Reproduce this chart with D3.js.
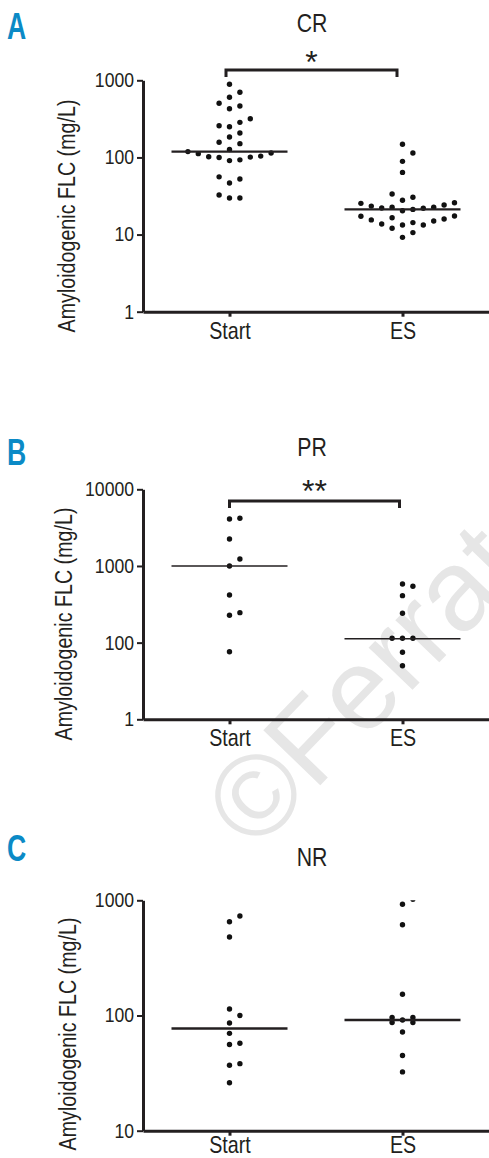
<!DOCTYPE html>
<html>
<head>
<meta charset="utf-8">
<script src="https://cdn.jsdelivr.net/npm/d3@7"></script>
<style>
  body { margin: 0; background: #fff; }
  svg { display: block; }
</style>
</head>
<body>
<div id="chart"></div>
<script>
const groups = ['Start', 'ES'];

// A - CR
const crStart = [887, 699, 602, 504, 464, 428, 318, 285, 258, 250, 207, 184, 157, 151, 127,
                 119, 114, 112, 104, 102, 101, 100, 93, 91, 56, 52.5, 46.6, 32.6, 29.8, 29.8];
const crES = [148, 114, 89, 64, 33.6, 30.4, 27.8, 25.9, 25.4, 24.2, 23.4, 22.6, 22.6, 22.1, 21.9,
              21.2, 20.4, 17.4, 17.3, 16.5, 15.9, 15.5, 15.0, 14.3, 13.7, 13.3, 13.3, 12.1, 10.6, 9.2];
const crMedian = [119, 21.2];
const crTicks = [1, 10, 100, 1000];
const crTickLabels = ['1', '10', '100', '1000'];

// B - PR
const prStart = [4190, 4100, 2250, 1234, 1000, 419, 246, 228, 76];
const prES = [582, 543, 410, 242, 114, 114, 114, 75, 50];
const prMedian = [1000, 112];
const prTicks = [10, 100, 1000, 10000];
const prTickLabels = ['1', '100', '1000', '10000'];

// C - NR
const nrStart = [731, 652, 480, 114, 100, 86, 70, 57.4, 56, 38.2, 37, 26.1];
const nrES = [1020, 923, 614, 153, 96, 96, 91.4, 87, 87, 72, 45, 32.4];
const nrMedian = [77, 91.4];
const nrTicks = [10, 100, 1000];
const nrTickLabels = ['10', '100', '1000'];

const W = 489, H = 1158;
const ink = '#231f20';
// no condensed face installed, so squeeze Liberation Sans horizontally
const sans = '"Liberation Sans", Arial, sans-serif';
const squeeze = 0.82;

const svg = d3.select('#chart')
    .append('svg')
    .attr('width', W)
    .attr('height', H);

// watermark, sits behind the plots
svg.append('text')
    .attr('transform', 'translate(255,853) rotate(-46)')
    .attr('font-family', sans)
    .attr('font-size', 115)
    .attr('fill', '#e6e6e6')
    .text('©Ferrata');

// simple beeswarm: go up from the lowest value, take the nearest free slot
function swarm(values, y, cx, maxSlot) {
    const step = 10.4, minDist = 10;
    const placed = [];
    values.slice().sort((a, b) => a - b).forEach(v => {
        const py = y(v);
        let best = cx, bestD = -1;
        for (let k = 0; k <= 2 * maxSlot; k++) {
            const s = k === 0 ? 0 : (k % 2 ? (k + 1) / 2 : -k / 2);
            const px = cx + s * step;
            const d = placed.length ? d3.min(placed, p => Math.hypot(p.x - px, p.y - py)) : Infinity;
            if (d >= minDist) { best = px; break; }
            if (d > bestD) { bestD = d; best = px; }
        }
        placed.push({ x: best, y: py });
    });
    return placed;
}

const panels = [
    { letter: 'A', title: 'CR', top: 80.3, bottom: 311.7, domain: [1, 1000],
      ticks: crTicks, tickLabels: crTickLabels, series: [crStart, crES], median: crMedian,
      maxSlot: 5, medianWidth: 2.2, titleY: 32, letterY: 39, labelX: 75, labelY: 216, xPad: 5,
      sig: { text: '*', y: 70, textY: 73, l: -3.5, r: -5.5 } },
    { letter: 'B', title: 'PR', top: 489.3, bottom: 719.3, domain: [10, 10000],
      ticks: prTicks, tickLabels: prTickLabels, series: [prStart, prES], median: prMedian,
      maxSlot: 2, medianWidth: 1.5, titleY: 456, letterY: 465, labelX: 72, labelY: 624, xPad: 5,
      sig: { text: '**', y: 501, textY: 502, l: 0, r: -3 } },
    { letter: 'C', title: 'NR', top: 900.3, bottom: 1130.7, domain: [10, 1000],
      ticks: nrTicks, tickLabels: nrTickLabels, series: [nrStart, nrES], median: nrMedian,
      maxSlot: 1, medianWidth: 2.5, titleY: 866, letterY: 861, labelX: 76, labelY: 1034, xPad: 0.5,
      sig: null }
];

const x = d3.scalePoint()
    .domain(groups)
    .range([143, W])
    .padding(0.5);

panels.forEach((p, pi) => {
    const g = svg.append('g');
    const y = d3.scaleLog().domain(p.domain).range([p.bottom, p.top]);

    // panel letter
    g.append('text')
        .attr('transform', `translate(7,${p.letterY}) scale(0.72,1)`)
        .attr('font-family', sans)
        .attr('font-weight', 'bold')
        .attr('font-size', 37)
        .attr('fill', '#0b8ac6')
        .text(p.letter);

    // title
    g.append('text')
        .attr('transform', `translate(${(x('Start') + x('ES')) / 2 - 4},${p.titleY}) scale(0.85,1)`)
        .attr('text-anchor', 'middle')
        .attr('font-family', sans)
        .attr('font-size', 25)
        .attr('fill', ink)
        .text(p.title);

    // y label
    g.append('text')
        .attr('transform', `translate(${p.labelX},${p.labelY}) rotate(-90) scale(${squeeze},1)`)
        .attr('text-anchor', 'middle')
        .attr('font-family', sans)
        .attr('font-size', 24)
        .attr('fill', ink)
        .text('Amyloidogenic FLC (mg/L)');

    // axes
    const yAxis = g.append('g')
        .attr('transform', 'translate(143,0)')
        .call(d3.axisLeft(y)
            .tickValues(p.ticks)
            .tickFormat((d, i) => p.tickLabels[i])
            .tickSize(6)
            .tickPadding(3)
            .tickSizeOuter(0));

    const xAxis = g.append('g')
        .attr('transform', `translate(0,${p.bottom})`)
        .call(d3.axisBottom(x)
            .tickSize(5)
            .tickPadding(p.xPad)
            .tickSizeOuter(0));

    yAxis.select('.domain').attr('stroke', ink).attr('stroke-width', 3);
    xAxis.select('.domain').attr('stroke', ink).attr('stroke-width', 3);
    yAxis.selectAll('.tick line').attr('stroke', ink).attr('stroke-width', 2);
    xAxis.selectAll('.tick line').attr('stroke', ink).attr('stroke-width', 3);
    yAxis.selectAll('.tick text')
        .attr('font-family', sans)
        .attr('font-size', 20)
        .attr('fill', ink)
        .attr('x', -9 / 0.88)
        .attr('transform', 'scale(0.88,1)');
    xAxis.selectAll('.tick text')
        .attr('font-family', sans)
        .attr('font-size', 24)
        .attr('fill', ink)
        .attr('transform', `scale(${squeeze},1)`);

    // clip the dots to the plot area
    const clipId = 'clip' + pi;
    g.append('clipPath')
        .attr('id', clipId)
        .append('rect')
        .attr('x', 143)
        .attr('y', p.top)
        .attr('width', W - 143)
        .attr('height', p.bottom - p.top);

    const plot = g.append('g').attr('clip-path', `url(#${clipId})`);

    groups.forEach((grp, gi) => {
        const pts = swarm(p.series[gi], y, x(grp), p.maxSlot);
        plot.selectAll(null)
            .data(pts)
            .join('circle')
            .attr('cx', d => d.x)
            .attr('cy', d => d.y)
            .attr('r', 2.7)
            .attr('fill', '#111');

        // median line
        plot.append('line')
            .attr('x1', x(grp) - 58)
            .attr('x2', x(grp) + 58)
            .attr('y1', y(p.median[gi]))
            .attr('y2', y(p.median[gi]))
            .attr('stroke', ink)
            .attr('stroke-width', p.medianWidth);
    });

    // significance bracket
    if (p.sig) {
        const x1 = x('Start') + p.sig.l, x2 = x('ES') + p.sig.r;
        g.append('path')
            .attr('d', `M${x1},${p.sig.y + 7}V${p.sig.y}H${x2}V${p.sig.y + 7}`)
            .attr('fill', 'none')
            .attr('stroke', ink)
            .attr('stroke-width', 3);
        g.append('text')
            .attr('x', (x1 + x2) / 2)
            .attr('y', p.sig.textY)
            .attr('text-anchor', 'middle')
            .attr('font-family', sans)
            .attr('font-size', 32)
            .attr('fill', ink)
            .text(p.sig.text);
    }
});
</script>
</body>
</html>
